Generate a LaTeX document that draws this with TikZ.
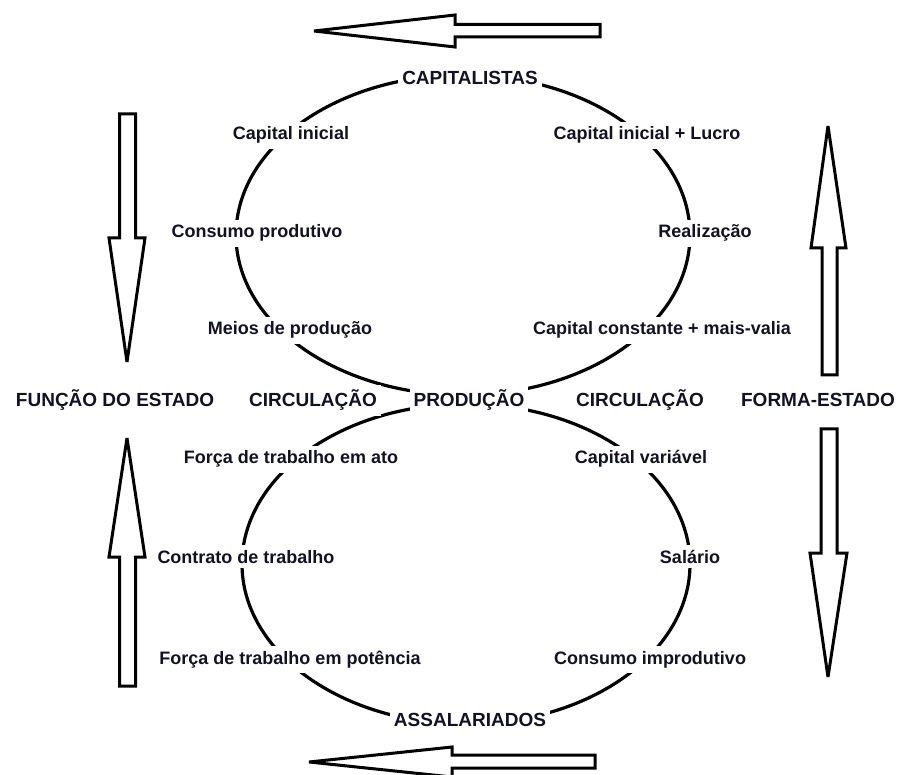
\documentclass[tikz,border=0pt]{standalone}
\usepackage{fontspec}
\setmainfont{Liberation Sans}
\definecolor{ink}{RGB}{18,18,36}
\begin{document}
\begin{tikzpicture}[x=1pt,y=-1pt,
  loopline/.style={line width=3.2pt, draw=black},
  lbl/.style={font=\bfseries\fontsize{18}{20}\selectfont, text=ink, fill=white,
              inner xsep=4pt, inner ysep=5pt, anchor=base},
  caps/.style={lbl, font=\bfseries\fontsize{19}{22}\selectfont},
  fatarrow/.style={draw=black, line width=3pt, line join=miter, miter limit=4}]

\useasboundingbox (0,0) rectangle (900,775);

% the two loops of the cycle
\draw[loopline] (463,235) ellipse [x radius=227pt, y radius=160pt];
\draw[loopline] (466,564) ellipse [x radius=224pt, y radius=160pt];

% upper loop: capital
\node[caps] (cap)  at (470,85)  {CAPITALISTAS};
\node[lbl]  (ci)   at (291,140) {Capital inicial};
\node[lbl]  (cil)  at (647,140) {Capital inicial + Lucro};
\node[lbl]  (cp)   at (257,238) {Consumo produtivo};
\node[lbl]  (real) at (705,238) {Realização};
\node[lbl]  (mp)   at (290,335) {Meios de produção};
\node[lbl]  (ccm)  at (662,335) {Capital constante + mais-valia};

% middle row
\node[caps] (fe)   at (115,407) {FUNÇÃO DO ESTADO};
\node[caps] (circl) at (313,407) {CIRCULAÇÃO};
\node[caps] (prod) at (469,407) {PRODUÇÃO};
\node[caps] (circr) at (640,407) {CIRCULAÇÃO};
\node[caps] (fm)   at (818,407) {FORMA-ESTADO};

% lower loop: labour
\node[lbl]  (fta)  at (291,464) {Força de trabalho em ato};
\node[lbl]  (cv)   at (641,464) {Capital variável};
\node[lbl]  (ct)   at (246,563) {Contrato de trabalho};
\node[lbl]  (sal)  at (690,563) {Salário};
\node[lbl]  (ftp)  at (290,664) {Força de trabalho em potência};
\node[lbl]  (ci2)  at (650,664) {Consumo improdutivo};
\node[caps] (ass)  at (470,726) {ASSALARIADOS};

% hollow arrows
% top, pointing left
\draw[fatarrow] (314,31) -- (455,15) -- (455,24.5) -- (600,24.5) -- (600,37)
  -- (455,37) -- (455,47) -- cycle;
% bottom, pointing left
\draw[fatarrow] (309,762) -- (452,747) -- (452,755) -- (595,755) -- (595,768)
  -- (452,768) -- (452,777) -- cycle;
% left upper, pointing down
\draw[fatarrow] (127,362) -- (109,238) -- (119.5,238) -- (119.5,114) -- (135.5,114)
  -- (135.5,238) -- (145,238) -- cycle;
% left lower, pointing up
\draw[fatarrow] (127,438) -- (109,557) -- (119.5,557) -- (119.5,686) -- (135.5,686)
  -- (135.5,557) -- (145,557) -- cycle;
% right upper, pointing up
\draw[fatarrow] (828,126) -- (811,248) -- (822,248) -- (822,375) -- (837,375)
  -- (837,248) -- (846,248) -- cycle;
% right lower, pointing down
\draw[fatarrow] (828,677) -- (810,553) -- (821,553) -- (821,429) -- (837,429)
  -- (837,553) -- (847,553) -- cycle;

\end{tikzpicture}
\end{document}
